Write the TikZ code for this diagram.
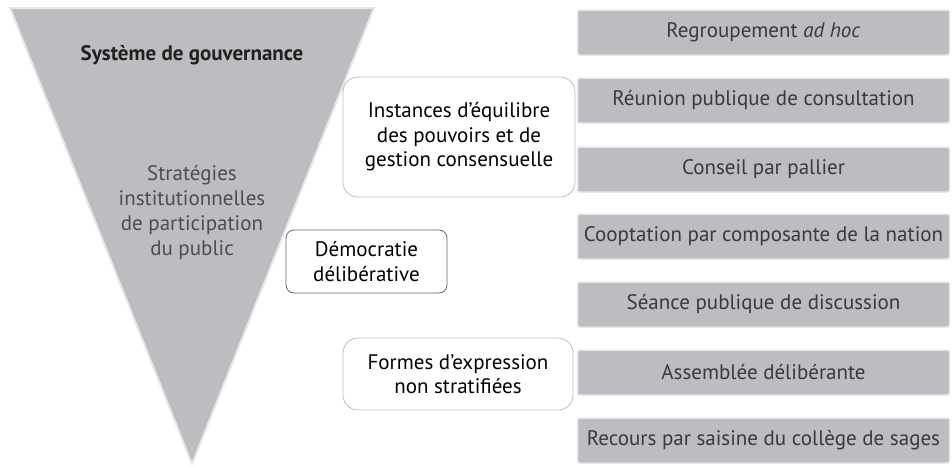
\documentclass[tikz,border=0pt]{standalone}
\usepackage{fontspec}
\setmainfont{PT Sans}
\usepackage{tikz}
\usetikzlibrary{positioning}
\definecolor{boxgray}{HTML}{BCBDC0}
\definecolor{edgegray}{HTML}{E6E7E8}
\definecolor{framegray}{HTML}{BDBEC0}
\definecolor{textgray}{HTML}{3A393B}
\definecolor{softtext}{HTML}{4D4D4F}
\definecolor{titletext}{HTML}{231F20}
\tikzset{
    x=1pt,
    y=-1pt,
    every node/.style = {
        font=\fontsize{21}{24.5}\selectfont,
        align=center,
        inner sep=0pt
    },
    item/.style = {
        draw=edgegray,
        fill=boxgray,
        line width=1.5pt,
        rounded corners=2pt,
        minimum width=372pt,
        minimum height=45pt,
        text=textgray
    },
    group/.style = {
        draw=framegray,
        fill=white,
        line width=0.8pt,
        rounded corners=15pt,
        text=black
    },
    choice/.style = {
        draw=black!60,
        fill=white,
        line width=0.8pt,
        rounded corners=8pt,
        text=black
    }
}
\begin{document}
\begin{tikzpicture}
                \useasboundingbox (0,0) rectangle (952,466);

                % funnel
                \coordinate (topleft) at (10,8);
                \coordinate (topright) at (374,8);
                \coordinate (apex) at (192,464);
                \path[draw=edgegray, fill=boxgray, line width=2pt, line join=miter] (topleft) -- (topright) -- (apex) -- cycle;
                \node[text=titletext, font=\fontsize{21}{24.5}\selectfont\bfseries] (gov) at (192,55) {Système de gouvernance};
                \node[text=softtext, font=\fontsize{21}{25}\selectfont] (strat) at (192,213) {Stratégies\\institutionnelles\\de participation\\du public};

                % groups
                \node[group, minimum width=232pt, minimum height=120pt] (inst) at (459,137) {Instances d’équilibre\\des pouvoirs et de\\gestion consensuelle};
                \node[choice, minimum width=161pt, minimum height=63pt] (demo) at (366.5,261.5) {Démocratie\\délibérative};
                \node[group, minimum width=230pt, minimum height=72pt] (forms) at (458,374) {Formes d’expression\\non stratifiées};

                % mechanisms
                \node[item] (adhoc) at (763.5,32.5) {Regroupement \textit{ad hoc}};
                \node[item] (consult) at (763.5,100.5) {Réunion publique de consultation};
                \node[item] (council) at (763.5,169.5) {Conseil par pallier};
                \node[item] (coopt) at (763.5,236.5) {Cooptation par composante de la nation};
                \node[item] (session) at (763.5,304.5) {Séance publique de discussion};
                \node[item] (assembly) at (763.5,372.5) {Assemblée délibérante};
                \node[item] (appeal) at (763.5,440.5) {Recours par saisine du collège de sages};
            \end{tikzpicture}
\end{document}
